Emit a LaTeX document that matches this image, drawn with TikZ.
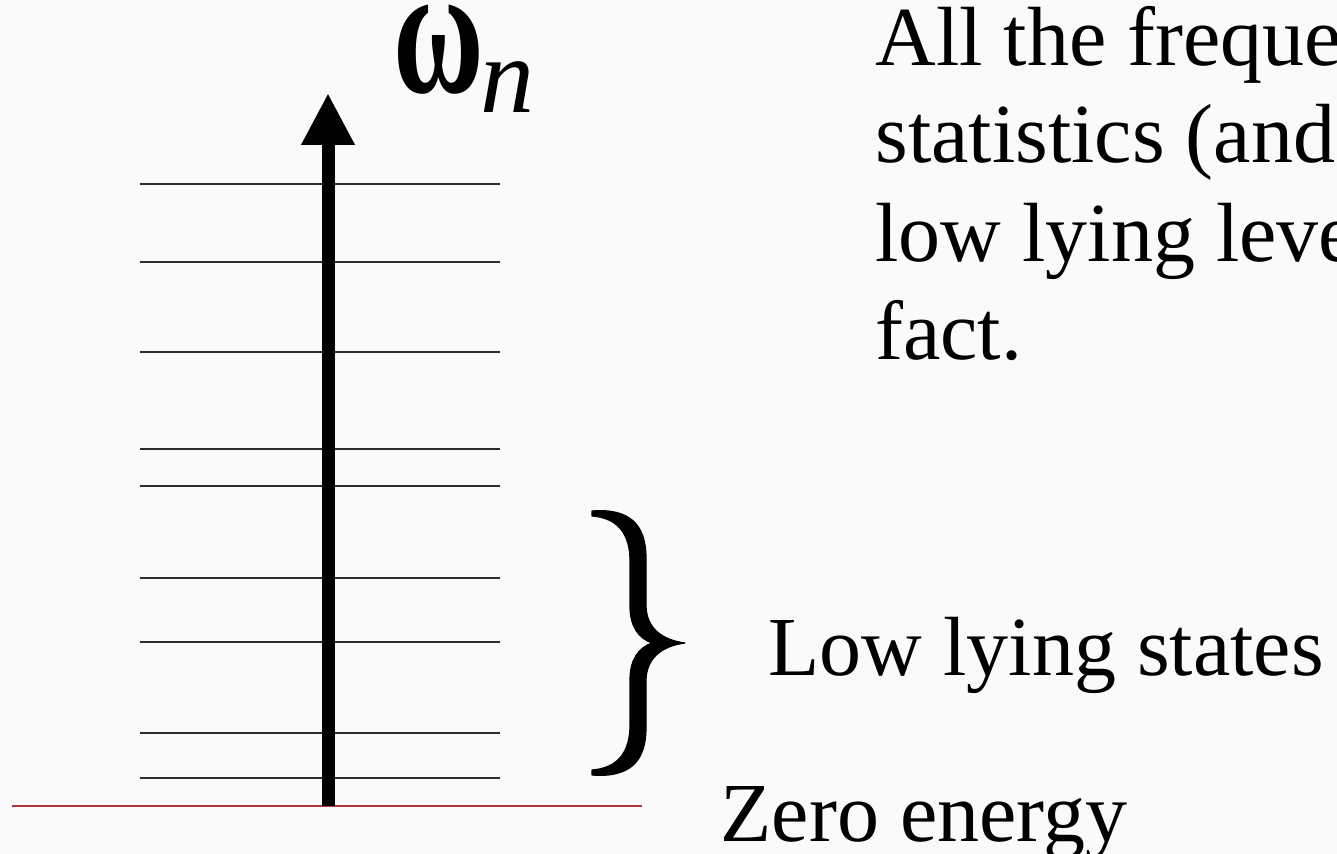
\documentclass[tikz,border=0pt]{standalone}
\usepackage{fontspec}
\setmainfont{Liberation Serif}
\usetikzlibrary{arrows.meta}
\definecolor{bg}{RGB}{250,250,250}
\definecolor{levelgray}{RGB}{45,45,45}
\definecolor{zerored}{RGB}{175,55,65}
\tikzset{
  level/.style={draw=levelgray, line width=1.3pt},
  zeroline/.style={draw=zerored, line width=1.2pt},
  axis/.style={draw=black, line width=6.5pt, -{Triangle[width=25pt,length=26pt]}},
  txt/.style={anchor=base west, inner sep=0pt, font=\fontsize{42}{49}\selectfont},
  bracefill/.style={fill=black, draw=black, line width=0.6pt, line join=round},
}
\begin{document}
\begin{tikzpicture}[x=0.5pt,y=-0.5pt]
\useasboundingbox (0,0) rectangle (1337,854);
\clip (0,0) rectangle (1337,854);
\fill[bg] (0,0) rectangle (1337,854);
% energy levels
\foreach \yy in {184,262,352,449,486,578,642,733,778}{
  \draw[level] (140,\yy) -- (500,\yy);
}
% zero energy line
\coordinate (zl) at (12,806);
\coordinate (zr) at (642,806);
\draw[zeroline] (zl) -- (zr);
% axis
\coordinate (axbase) at (328,806);
\coordinate (axtop) at (328,93);
\draw[axis] (axbase) -- (axtop);
% omega_n
\node[anchor=base west, inner sep=0pt] (omega) at (393,93)
  {\fontsize{62}{62}\selectfont\bfseries\scalebox{1.0}[1.5]{ω}\kern-2pt\raisebox{-10pt}{\fontsize{54}{54}\selectfont\mdseries\itshape n}};
% brace
\path[bracefill]
  (592,511) .. controls (630,508) and (646,525) .. (646,558) -- (646,605)
  .. controls (646,628) and (662,640) .. (685,643)
  .. controls (662,646) and (646,658) .. (646,681) -- (646,728)
  .. controls (646,761) and (630,778) .. (592,775)
  -- (592,770) .. controls (618,768) and (630,752) .. (630,725) -- (630,680)
  .. controls (630,660) and (638,648) .. (652,643)
  .. controls (638,638) and (630,626) .. (630,606) -- (630,561)
  .. controls (630,534) and (618,518) .. (592,516) -- cycle;
% texts
\node[txt] (t1) at (875,66) {All the freque};
\node[txt] (t2) at (875,163) {statistics (and};
\node[txt] (t3) at (875,262) {low lying leve};
\node[txt] (t4) at (875,360) {fact.};
\node[txt] (low) at (768,675) {Low lying states};
\node[txt] (zero) at (720,841) {Zero energy};
\end{tikzpicture}
\end{document}
